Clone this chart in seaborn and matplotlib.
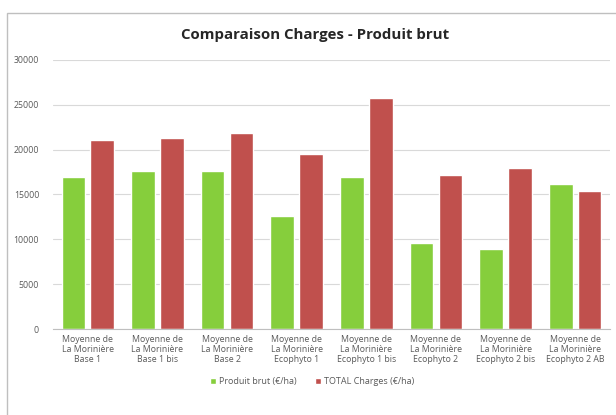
import pandas as pd
import matplotlib
matplotlib.use("Agg")
import matplotlib.pyplot as plt
import seaborn as sns

# data
categories = [
    "Moyenne de\nLa Morinière\nBase 1",
    "Moyenne de\nLa Morinière\nBase 1 bis",
    "Moyenne de\nLa Morinière\nBase 2",
    "Moyenne de\nLa Morinière\nEcophyto 1",
    "Moyenne de\nLa Morinière\nEcophyto 1 bis",
    "Moyenne de\nLa Morinière\nEcophyto 2",
    "Moyenne de\nLa Morinière\nEcophyto 2 bis",
    "Moyenne de\nLa Morinière\nEcophyto 2 AB",
]
produit_brut = [16900, 17600, 17600, 12600, 16900, 9600, 8900, 16200]
total_charges = [21100, 21300, 21900, 19500, 25750, 17200, 18000, 15400]
series_names = ["Produit brut (€/ha)", "TOTAL Charges (€/ha)"]
yticks = [0, 5000, 10000, 15000, 20000, 25000, 30000]

df = pd.DataFrame({
    "cat": categories * 2,
    "serie": [series_names[0]] * len(categories) + [series_names[1]] * len(categories),
    "val": produit_brut + total_charges,
})

sns.set_style("white")
plt.rcParams['font.family'] = ['Open Sans', 'DejaVu Sans']

fig = plt.figure(figsize=(6.16, 4.15), dpi=100)
ax = fig.add_axes([53 / 616, 1 - 329 / 415, 557 / 616, 269 / 415])

sns.barplot(data=df, x="cat", y="val", hue="serie", order=categories,
            palette=["#86CE3C", "#C0504D"], width=0.83, gap=0.18,
            saturation=1, ax=ax, legend=True)

ax.set_ylim(0, 30000)
ax.set_yticks(yticks)
ax.set_yticklabels([str(t) for t in yticks])
ax.yaxis.grid(True, color="#d9d9d9", linewidth=0.8)
ax.set_axisbelow(True)
ax.set_xlim(-0.5, len(categories) - 0.5)
for s in ["top", "right", "left"]:
    ax.spines[s].set_visible(False)
ax.spines["bottom"].set_color("#bfbfbf")
ax.tick_params(axis="both", length=0, labelsize=6.3, colors="#595959")
ax.tick_params(axis="x", pad=4)
ax.tick_params(axis="y", pad=10)
ax.set_xlabel("")
ax.set_ylabel("")

leg = ax.legend(loc="upper center", bbox_to_anchor=(0.465, -0.15), ncol=2,
                frameon=False, fontsize=6.5, handlelength=0.7, handleheight=0.7,
                handletextpad=0.3, columnspacing=2.0)
for t in leg.get_texts():
    t.set_color("#595959")

fig.text(315 / 616, 1 - 35 / 415, "Comparaison Charges - Produit brut",
         ha="center", va="center", fontsize=10.8, fontweight="bold", color="#262626")

# chart area border
fig.add_artist(plt.Rectangle((7 / 616, -0.01), 1.0, 1 - 13 / 415 + 0.01,
                             transform=fig.transFigure, fill=False,
                             edgecolor="#bfbfbf", linewidth=1))

fig.savefig("out.png", dpi=100)
